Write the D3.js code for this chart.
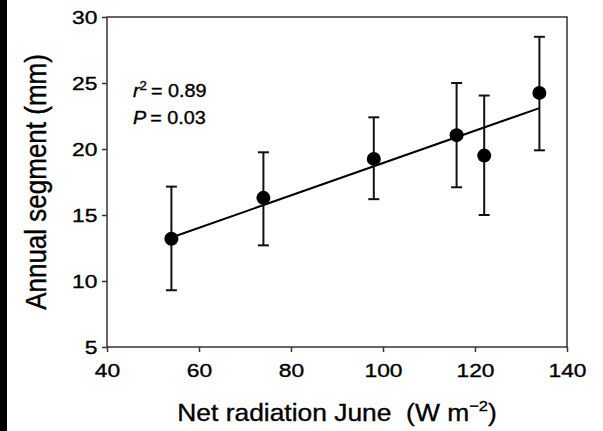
<!DOCTYPE html>
<html>
<head>
<meta charset="utf-8">
<script src="https://cdn.jsdelivr.net/npm/d3@7"></script>
<style>
  body { margin: 0; background: #fff; }
  text { font-family: "Liberation Sans", Arial, sans-serif; fill: #000; stroke: #000; stroke-width: 0.35px; }
</style>
</head>
<body>
<div id="chart"></div>
<script>
// radiation (W m-2) vs annual segment length (mm)
const radiation = [54, 74, 98, 116, 122, 134];
const segment   = [13.2, 16.3, 19.25, 21.05, 19.5, 24.25];
const errLow    = [9.3, 12.7, 16.2, 17.1, 15.0, 19.9];
const errHigh   = [17.15, 19.75, 22.4, 25.0, 24.05, 28.5];
// fitted line end points
const fitX = [54, 134];
const fitY = [13.3, 23.1];
const xTicks = [40, 60, 80, 100, 120, 140];
const yTicks = [5, 10, 15, 20, 25, 30];

const W = 603, H = 431;
const margin = {top: 17, right: 36, bottom: 84, left: 107};
const width = W - margin.left - margin.right;
const height = H - margin.top - margin.bottom;
// the scan is stretched a little sideways, so the type is too
const stretch = 1.2;

const svg = d3.select('#chart').append('svg')
    .attr('width', W)
    .attr('height', H);

// black strip on the left edge of the scan
svg.append('rect')
    .attr('x', 0).attr('y', 0)
    .attr('width', 7).attr('height', H)
    .attr('fill', '#000');

const chart = svg.append('g')
    .attr('transform', `translate(${margin.left},${margin.top})`);

const xScale = d3.scaleLinear().domain([40, 140]).range([0, width]);
const yScale = d3.scaleLinear().domain([5, 30]).range([height, 0]);

// frame
chart.append('rect')
    .attr('width', width).attr('height', height)
    .attr('fill', 'none')
    .attr('stroke', '#333')
    .attr('stroke-width', 1.5);

const xAxis = d3.axisBottom(xScale).tickValues(xTicks).tickSize(5).tickPadding(12);
const yAxis = d3.axisLeft(yScale).tickValues(yTicks).tickSize(5).tickPadding(3);

const xAxisG = chart.append('g')
    .attr('transform', `translate(0,${height})`)
    .call(xAxis);
const yAxisG = chart.append('g').call(yAxis);

[xAxisG, yAxisG].forEach(g => {
    g.attr('font-size', null).attr('font-family', null);
    g.select('.domain').remove();
    g.selectAll('.tick line').attr('stroke', '#333').attr('stroke-width', 1.5);
    g.selectAll('.tick text')
        .style('font-size', '19px')
        .attr('fill', '#000')
        .attr('transform', `scale(${stretch},1)`);
});

// regression line
chart.append('line')
    .attr('x1', xScale(fitX[0])).attr('y1', yScale(fitY[0]))
    .attr('x2', xScale(fitX[1])).attr('y2', yScale(fitY[1]))
    .attr('stroke', '#000')
    .attr('stroke-width', 2);

const pts = radiation.map((x, i) => ({x: x, y: segment[i], lo: errLow[i], hi: errHigh[i]}));

// error bars
const bars = chart.selectAll('.err')
    .data(pts)
    .join('g')
    .attr('class', 'err')
    .attr('stroke', '#111')
    .attr('stroke-width', 2);

bars.append('line')
    .attr('x1', d => xScale(d.x)).attr('x2', d => xScale(d.x))
    .attr('y1', d => yScale(d.lo)).attr('y2', d => yScale(d.hi));
bars.append('line')
    .attr('x1', d => xScale(d.x) - 5.5).attr('x2', d => xScale(d.x) + 5.5)
    .attr('y1', d => yScale(d.hi)).attr('y2', d => yScale(d.hi));
bars.append('line')
    .attr('x1', d => xScale(d.x) - 5.5).attr('x2', d => xScale(d.x) + 5.5)
    .attr('y1', d => yScale(d.lo)).attr('y2', d => yScale(d.lo));

chart.selectAll('.point')
    .data(pts)
    .join('circle')
    .attr('class', 'point')
    .attr('cx', d => xScale(d.x))
    .attr('cy', d => yScale(d.y))
    .attr('r', 7)
    .attr('fill', '#000');

// statistics
const statG = chart.append('g')
    .attr('transform', `translate(26,0) scale(1.1,1)`);
const stat1 = statG.append('text')
    .attr('y', 80)
    .attr('font-size', '18px');
stat1.append('tspan').attr('font-style', 'italic').text('r');
stat1.append('tspan').attr('font-size', '12px').attr('dy', -7).text('2');
stat1.append('tspan').attr('dy', 7).text('\u2009= 0.89');

const stat2 = statG.append('text')
    .attr('y', 107)
    .attr('font-size', '18px');
stat2.append('tspan').attr('font-style', 'italic').text('P');
stat2.append('tspan').text('\u2009= 0.03');

// axis titles
const xTitle = svg.append('text')
    .attr('transform', `translate(${margin.left + width / 2},421) scale(1.1,1)`)
    .attr('text-anchor', 'middle')
    .attr('font-size', '24px');
xTitle.append('tspan').text('Net radiation June\u00a0\u00a0(W m');
xTitle.append('tspan').attr('font-size', '15px').attr('dy', -10).text('\u22122');
xTitle.append('tspan').attr('dy', 10).text(')');

svg.append('text')
    .attr('transform', `translate(46,${margin.top + height / 2}) scale(1.1,1) rotate(-90)`)
    .attr('text-anchor', 'middle')
    .attr('font-size', '26px')
    .text('Annual segment (mm)');
</script>
</body>
</html>
